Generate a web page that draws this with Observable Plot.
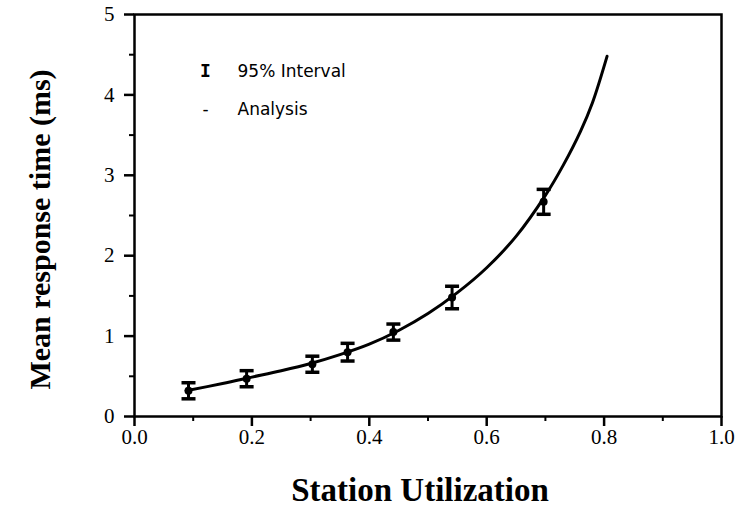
<!DOCTYPE html>
<html>
<head>
<meta charset="utf-8">
<script src="https://cdn.jsdelivr.net/npm/d3@7"></script>
<script src="https://cdn.jsdelivr.net/npm/@observablehq/plot@0.6"></script>
<style>
  html, body { margin: 0; padding: 0; background: #fff; }
  #chart svg { display: block; }
</style>
</head>
<body>
<div id="chart"></div>
<script>
// Measured points (station utilization, mean response time, 95% half-interval)
const pointX   = [0.092, 0.191, 0.303, 0.363, 0.441, 0.541, 0.697];
const pointY   = [0.32, 0.47, 0.65, 0.80, 1.05, 1.48, 2.67];
const pointErr = [0.10, 0.10, 0.10, 0.11, 0.10, 0.14, 0.155];

// Analysis curve
const curveX = [0.088, 0.15, 0.20, 0.25, 0.30, 0.35, 0.40, 0.45, 0.50, 0.55, 0.60, 0.65, 0.70, 0.73, 0.76, 0.78, 0.805];
const curveY = [0.32, 0.41, 0.49, 0.57, 0.66, 0.77, 0.90, 1.07, 1.28, 1.54, 1.85, 2.24, 2.75, 3.12, 3.55, 3.90, 4.48];

// Ticks
const xMajor = [0, 0.2, 0.4, 0.6, 0.8, 1.0];
const xMinor = [0.1, 0.3, 0.5, 0.7, 0.9];
const yMajor = [0, 1, 2, 3, 4, 5];
const yMinor = [0.5, 1.5, 2.5, 3.5, 4.5];

const xLabel = "Station Utilization";
const yLabel = "Mean response time (ms)";
const legendInterval = "95% Interval";
const legendAnalysis = "Analysis";

const points = pointX.map((x, i) => ({x, y: pointY[i], e: pointErr[i]}));
const curve = curveX.map((x, i) => ({x, y: curveY[i]}));

const cap = { draw(ctx) { ctx.moveTo(-7, 0); ctx.lineTo(7, 0); } };

const chart = Plot.plot({
  width: 740,
  height: 517,
  marginLeft: 134,
  marginRight: 19,
  marginTop: 14,
  marginBottom: 101,
  style: { fontFamily: "'Liberation Serif', 'Times New Roman', serif", color: "black", background: "white" },
  x: { domain: [0, 1] },
  y: { domain: [0, 5] },
  marks: [
    Plot.axisX({ ticks: xMajor, tickSize: 10, tickPadding: 3, tickFormat: d3.format(".1f"), fontSize: 21, strokeWidth: 2.5, label: null }),
    Plot.axisX({ ticks: xMinor, tickSize: 5, tickFormat: () => "", strokeWidth: 2, label: null }),
    Plot.axisY({ ticks: yMajor, tickSize: 10, tickPadding: 10, tickFormat: d3.format("d"), fontSize: 21, strokeWidth: 2.5, label: null }),
    Plot.axisY({ ticks: yMinor, tickSize: 5, tickFormat: () => "", strokeWidth: 2, label: null }),
    Plot.frame({ stroke: "black", strokeWidth: 2.5 }),
    Plot.line(curve, { x: "x", y: "y", curve: "catmull-rom", stroke: "black", strokeWidth: 3 }),
    Plot.ruleX(points, { x: "x", y1: d => d.y - d.e, y2: d => d.y + d.e, stroke: "black", strokeWidth: 3 }),
    Plot.dot(points, { x: "x", y: d => d.y - d.e, symbol: cap, stroke: "black", fill: "none", strokeWidth: 3.5 }),
    Plot.dot(points, { x: "x", y: d => d.y + d.e, symbol: cap, stroke: "black", fill: "none", strokeWidth: 3.5 }),
    Plot.dot(points, { x: "x", y: "y", r: 4, fill: "black" }),
    // legend
    Plot.text(["I"], { frameAnchor: "top-left", dx: 71, dy: 57, textAnchor: "middle", lineAnchor: "middle", fontFamily: "'DejaVu Sans Mono', monospace", fontSize: 18, fontWeight: "bold" }),
    Plot.text([legendInterval], { frameAnchor: "top-left", dx: 103, dy: 57, textAnchor: "start", lineAnchor: "middle", fontFamily: "'DejaVu Sans', sans-serif", fontSize: 17 }),
    Plot.text(["-"], { frameAnchor: "top-left", dx: 71, dy: 95, textAnchor: "middle", lineAnchor: "middle", fontFamily: "'DejaVu Sans', sans-serif", fontSize: 17 }),
    Plot.text([legendAnalysis], { frameAnchor: "top-left", dx: 103, dy: 95, textAnchor: "start", lineAnchor: "middle", fontFamily: "'DejaVu Sans', sans-serif", fontSize: 17 }),
    // axis titles
    Plot.text([xLabel], { frameAnchor: "bottom", dx: -8, dy: 74, textAnchor: "middle", lineAnchor: "middle", fontSize: 33, fontWeight: "bold" }),
    Plot.text([yLabel], { frameAnchor: "left", dx: -94, dy: 14, textAnchor: "middle", lineAnchor: "middle", rotate: -90, fontSize: 30, fontWeight: "bold" })
  ]
});

document.getElementById("chart").appendChild(chart);
</script>
</body>
</html>
